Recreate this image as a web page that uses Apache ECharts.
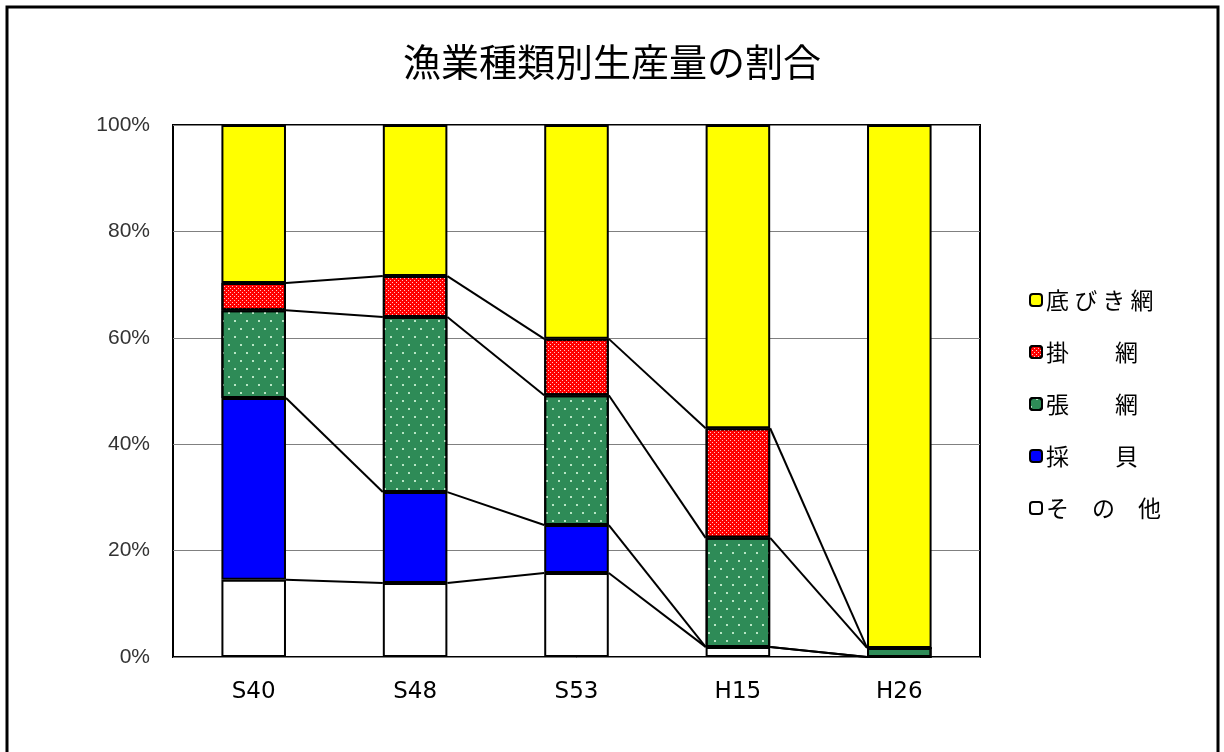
<!DOCTYPE html>
<html>
<head>
<meta charset="utf-8">
<script src="https://cdn.jsdelivr.net/npm/echarts@6/dist/echarts.min.js"></script>
<style>
  html, body { margin: 0; padding: 0; background: #fff; }
  #chart { width: 1224px; height: 752px; }
</style>
</head>
<body>
<div id="chart"></div>
<script>
// 年次
const categories = ['S40', 'S48', 'S53', 'H15', 'H26'];

// 漁業種類別の割合 (%), 下から積み上げる順
const sonota   = [14.5, 13.9, 15.8, 1.9, 0.0];   // その他
const saibai   = [34.2, 17.1,  9.0, 0.0, 0.0];   // 採貝
const haria    = [16.5, 32.9, 24.4, 20.5, 1.7];  // 張網
const kakeami  = [ 5.1,  7.7, 10.6, 20.6, 0.0];  // 掛網
const sokobiki = [29.7, 28.4, 40.2, 57.0, 98.3]; // 底びき網

const seriesNames = ['そ　の　他', '採　　貝', '張　　網', '掛　　網', '底 び き 網'];
const seriesValues = [sonota, saibai, haria, kakeami, sokobiki];
const yTicks = [0, 20, 40, 60, 80, 100];

// 各年次の累積値 (区分線用)
const cumulative = categories.map((_, i) => {
  let s = 0;
  return seriesValues.map(arr => (s += arr[i]));
});

const colors = ['#FFFFFF', '#0000FF', '#2E8B57', '#FF0000', '#FFFF00'];
const decals = [
  null,
  null,
  { symbol: 'rect', symbolSize: 1, color: 'rgba(200,240,210,0.9)',
    dashArrayX: [[1.5, 9.5], [0, 5.5, 1.5, 4]], dashArrayY: [1.5, 6] },
  { symbol: 'rect', symbolSize: 1, color: 'rgba(255,210,210,0.95)',
    dashArrayX: [[1, 3], [0, 2, 1, 1]], dashArrayY: [1, 1] },
  null
];

const barWidthRatio = 0.4;

const barSeries = seriesNames.map((name, k) => ({
  name,
  type: 'bar',
  stack: 'total',
  barWidth: (barWidthRatio * 100) + '%',
  data: seriesValues[k],
  itemStyle: Object.assign(
    { color: colors[k], borderColor: '#000', borderWidth: 2 },
    decals[k] ? { decal: decals[k] } : {}
  ),
  emphasis: { disabled: true },
  z: 3
}));

// 棒と棒の間をつなぐ区分線
const seriesLines = {
  type: 'custom',
  coordinateSystem: 'cartesian2d',
  data: categories.slice(0, -1).map((_, i) => [i]),
  encode: { x: 0 },
  silent: true,
  z: 4,
  renderItem(params, api) {
    const i = api.value(0);
    const band = api.size([1, 0])[0];
    const half = band * barWidthRatio / 2;
    const children = [];
    for (let k = 0; k < seriesValues.length - 1; k++) {
      const a = api.coord([i, cumulative[i][k]]);
      const b = api.coord([i + 1, cumulative[i + 1][k]]);
      children.push({
        type: 'line',
        shape: { x1: a[0] + half, y1: a[1], x2: b[0] - half, y2: b[1] },
        style: { stroke: '#000', lineWidth: 2 }
      });
    }
    return { type: 'group', children };
  }
};

const chart = echarts.init(document.getElementById('chart'), null, { renderer: 'canvas' });
chart.setOption({
  animation: false,
  backgroundColor: '#fff',
  title: {
    text: '漁業種類別生産量の割合',
    left: 607,
    top: 38,
    textAlign: 'center',
    textStyle: {
      fontFamily: '"Noto Sans CJK JP"',
      fontSize: 38,
      fontWeight: 'normal',
      color: '#000'
    }
  },
  legend: {
    orient: 'vertical',
    left: 1024,
    top: 283,
    itemWidth: 12,
    itemHeight: 12,
    itemGap: 28,
    data: seriesNames.slice().reverse(),
    textStyle: {
      fontFamily: '"Noto Sans CJK JP"',
      fontSize: 23,
      color: '#000',
      lineHeight: 24,
      padding: [0, 0, 0, -1]
    }
  },
  grid: {
    left: 173,
    right: 244,
    top: 125,
    bottom: 95,
    show: true,
    borderColor: '#000',
    borderWidth: 2,
    containLabel: false
  },
  xAxis: {
    type: 'category',
    data: categories,
    axisLine: { show: false },
    axisTick: { show: false },
    axisLabel: {
      margin: 24,
      fontFamily: '"DejaVu Sans"',
      fontSize: 23,
      color: '#000'
    },
    splitLine: { show: false }
  },
  yAxis: {
    type: 'value',
    min: yTicks[0],
    max: yTicks[yTicks.length - 1],
    interval: yTicks[1] - yTicks[0],
    axisLine: { show: false },
    axisTick: { show: false },
    axisLabel: {
      margin: 23,
      fontFamily: '"Liberation Sans"',
      fontSize: 21,
      color: '#333',
      formatter: v => v + '%'
    },
    splitLine: { show: true, lineStyle: { color: '#808080', width: 1 } }
  },
  graphic: [{
    type: 'rect',
    shape: { x: 7, y: 7, width: 1211, height: 800 },
    style: { fill: 'none', stroke: '#000', lineWidth: 3 },
    silent: true,
    z: 10
  }],
  series: barSeries.concat([seriesLines])
});
</script>
</body>
</html>
